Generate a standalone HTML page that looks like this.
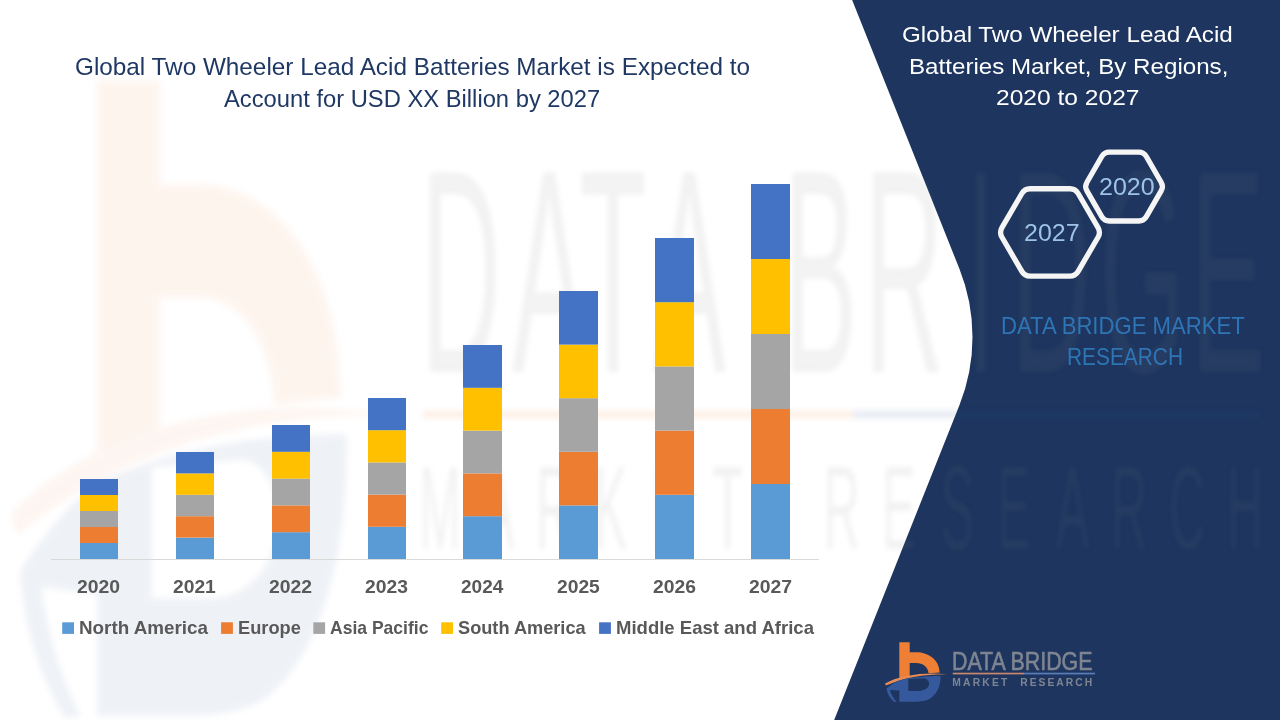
<!DOCTYPE html>
<html><head><meta charset="utf-8">
<style>
html,body{margin:0;padding:0;width:1280px;height:720px;overflow:hidden;background:#fff;}
body{position:relative;font-family:"Liberation Sans",sans-serif;}
svg{position:absolute;left:0;top:0;}
.t{position:absolute;white-space:nowrap;line-height:1;transform-origin:0 0;}
.yr{font-size:18px;font-weight:bold;color:#595959;}
.lg{font-size:17.4px;font-weight:bold;color:#595959;}
.rt{font-size:22px;color:#fff;}
.hx{font-size:23px;color:#9DC3E6;}
.db{font-size:22.6px;color:#2E75B6;}
</style></head><body>
<svg width="1280" height="720" viewBox="0 0 1280 720" font-family="Liberation Sans">
  <defs>
    <filter id="wb" x="-10%" y="-10%" width="120%" height="120%"><feGaussianBlur stdDeviation="3"/></filter>
    <filter id="wb2" x="-10%" y="-10%" width="120%" height="120%"><feGaussianBlur stdDeviation="2.5"/></filter>
    <g id="mark"><path d="M899.3,642.3 H909.7 V652.2 H916 C929,652.2 939.4,660 939.6,672.5 L928.6,673.2 C928,667 923,663 916,663 H909.7 V676.5 L899.3,678.5 Z" fill="#EE7F35"/>
<path d="M885,683.5 C900,675 925,672 947,674.2 C925,674 903,677.5 886,685.6 Z" fill="#E98B55"/>
<path d="M899.3,680.5 C910,677.5 925,676 940.5,676 C941,687 936,697 926,700.5 C922,701.5 918,701.7 914,701.7 L899.3,701.7 Z M908.3,679 L923,678.3 C928.5,678.5 930,683 928.6,686 C927,689.5 922,691 918,691 L908.3,691 Z M886.5,688.5 C890,685.5 895,682 899.3,680.5 L899.3,690.5 C896,690.5 892,690 890,690 C891,694 893,698 896.5,701.7 L894,701.9 C889.5,698 887,693 886.5,688.5 Z" fill="#35599C" fill-rule="evenodd"/></g>
  </defs>
  <path d="M852.13,0 L1280,0 L1280,720 L834.16,720 L959.4,405.2 A184,184 0 0 0 959.4,268.8 Z" fill="#1D355F"/>
  <g opacity="0.08" filter="url(#wb)">
    <g transform="matrix(6.044,0,0,10.49,-5338,-6657)"><path d="M899.3,642.3 H909.7 V652.2 H916 C929,652.2 939.4,660 939.6,672.5 L928.6,673.2 C928,667 923,663 916,663 H909.7 V676.5 L899.3,678.5 Z" fill="#EE7F35"/>
<path d="M885,683.5 C900,675 925,672 947,674.2 C925,674 903,677.5 886,685.6 Z" fill="#E98B55"/></g>
<g transform="translate(0,434) scale(1,1.044) translate(0,-434)"><path d="M899.3,680.5 C910,677.5 925,676 940.5,676 C941,687 936,697 926,700.5 C922,701.5 918,701.7 914,701.7 L899.3,701.7 Z M908.3,679 L923,678.3 C928.5,678.5 930,683 928.6,686 C927,689.5 922,691 918,691 L908.3,691 Z M886.5,688.5 C890,685.5 895,682 899.3,680.5 L899.3,690.5 C896,690.5 892,690 890,690 C891,694 893,698 896.5,701.7 L894,701.9 C889.5,698 887,693 886.5,688.5 Z" fill="#35599C" fill-rule="evenodd" transform="matrix(6.044,0,0,10.49,-5338,-6657)"/></g>
  </g>
  <g opacity="0.1" filter="url(#wb2)">
    <g fill="#808080"><text transform="translate(421.34,372.00) scale(0.380,1)" font-size="290.0" font-weight="normal" fill="#808080">D</text>
<text transform="translate(512.25,372.00) scale(0.380,1)" font-size="290.0" font-weight="normal" fill="#808080">A</text>
<text transform="translate(579.39,372.00) scale(0.380,1)" font-size="290.0" font-weight="normal" fill="#808080">T</text>
<text transform="translate(652.25,372.00) scale(0.380,1)" font-size="290.0" font-weight="normal" fill="#808080">A</text>
<text transform="translate(783.65,372.00) scale(0.380,1)" font-size="290.0" font-weight="normal" fill="#808080">B</text>
<text transform="translate(864.29,372.00) scale(0.380,1)" font-size="290.0" font-weight="normal" fill="#808080">R</text>
<text transform="translate(965.68,372.00) scale(0.380,1)" font-size="290.0" font-weight="normal" fill="#808080">I</text>
<text transform="translate(1011.34,372.00) scale(0.380,1)" font-size="290.0" font-weight="normal" fill="#808080">D</text>
<text transform="translate(1099.51,372.00) scale(0.380,1)" font-size="290.0" font-weight="normal" fill="#808080">G</text>
<text transform="translate(1191.10,372.00) scale(0.380,1)" font-size="290.0" font-weight="normal" fill="#808080">E</text>
<text transform="translate(419.18,549.00) scale(0.420,1)" font-size="119.0" font-weight="normal" fill="#808080">M</text>
<text transform="translate(480.83,549.00) scale(0.420,1)" font-size="119.0" font-weight="normal" fill="#808080">A</text>
<text transform="translate(536.08,549.00) scale(0.420,1)" font-size="119.0" font-weight="normal" fill="#808080">R</text>
<text transform="translate(594.08,549.00) scale(0.420,1)" font-size="119.0" font-weight="normal" fill="#808080">K</text>
<text transform="translate(652.36,549.00) scale(0.420,1)" font-size="119.0" font-weight="normal" fill="#808080">E</text>
<text transform="translate(712.26,549.00) scale(0.420,1)" font-size="119.0" font-weight="normal" fill="#808080">T</text>
<text transform="translate(823.58,549.00) scale(0.420,1)" font-size="119.0" font-weight="normal" fill="#808080">R</text>
<text transform="translate(882.36,549.00) scale(0.420,1)" font-size="119.0" font-weight="normal" fill="#808080">E</text>
<text transform="translate(940.83,549.00) scale(0.420,1)" font-size="119.0" font-weight="normal" fill="#808080">S</text>
<text transform="translate(997.36,549.00) scale(0.420,1)" font-size="119.0" font-weight="normal" fill="#808080">E</text>
<text transform="translate(1055.83,549.00) scale(0.420,1)" font-size="119.0" font-weight="normal" fill="#808080">A</text>
<text transform="translate(1111.08,549.00) scale(0.420,1)" font-size="119.0" font-weight="normal" fill="#808080">R</text>
<text transform="translate(1169.13,549.00) scale(0.420,1)" font-size="119.0" font-weight="normal" fill="#808080">C</text>
<text transform="translate(1226.93,549.00) scale(0.420,1)" font-size="119.0" font-weight="normal" fill="#808080">H</text></g>
    <rect x="423" y="410" width="430" height="9" fill="#EE7F35"/>
    <rect x="853" y="410" width="407" height="9" fill="#35599C"/>
  </g>
  <use href="#mark"/>
  <text x="952" y="670" font-size="26" fill="#7F8590" stroke="#7F8590" stroke-width="0.6" textLength="140.5" lengthAdjust="spacingAndGlyphs">DATA BRIDGE</text>
  <rect x="952.75" y="672.7" width="71.25" height="1.7" fill="#C9876B"/>
  <rect x="1024" y="672.7" width="71" height="1.7" fill="#5B7DB8"/>
  <text x="952.3" y="686.25" font-size="10.3" font-weight="bold" fill="#7F8590" textLength="55" lengthAdjust="spacing">MARKET</text>
  <text x="1020.2" y="686.25" font-size="10.3" font-weight="bold" fill="#7F8590" textLength="72" lengthAdjust="spacing">RESEARCH</text>
  <!-- axis -->
  <rect x="51" y="559" width="768" height="1" fill="#D9D9D9"/>
  <g id="bars">
<rect x="80" y="543.00" width="38" height="16.00" fill="#5B9BD5"/>
<rect x="80" y="527.00" width="38" height="16.00" fill="#ED7D31"/>
<rect x="80" y="511.00" width="38" height="16.00" fill="#A5A5A5"/>
<rect x="80" y="495.00" width="38" height="16.00" fill="#FFC000"/>
<rect x="80" y="479.00" width="38" height="16.00" fill="#4472C4"/>
<rect x="176" y="537.60" width="38" height="21.40" fill="#5B9BD5"/>
<rect x="176" y="516.20" width="38" height="21.40" fill="#ED7D31"/>
<rect x="176" y="494.80" width="38" height="21.40" fill="#A5A5A5"/>
<rect x="176" y="473.40" width="38" height="21.40" fill="#FFC000"/>
<rect x="176" y="452.00" width="38" height="21.40" fill="#4472C4"/>
<rect x="272" y="532.20" width="38" height="26.80" fill="#5B9BD5"/>
<rect x="272" y="505.40" width="38" height="26.80" fill="#ED7D31"/>
<rect x="272" y="478.60" width="38" height="26.80" fill="#A5A5A5"/>
<rect x="272" y="451.80" width="38" height="26.80" fill="#FFC000"/>
<rect x="272" y="425.00" width="38" height="26.80" fill="#4472C4"/>
<rect x="368" y="526.80" width="38" height="32.20" fill="#5B9BD5"/>
<rect x="368" y="494.60" width="38" height="32.20" fill="#ED7D31"/>
<rect x="368" y="462.40" width="38" height="32.20" fill="#A5A5A5"/>
<rect x="368" y="430.20" width="38" height="32.20" fill="#FFC000"/>
<rect x="368" y="398.00" width="38" height="32.20" fill="#4472C4"/>
<rect x="463" y="516.20" width="39" height="42.80" fill="#5B9BD5"/>
<rect x="463" y="473.40" width="39" height="42.80" fill="#ED7D31"/>
<rect x="463" y="430.60" width="39" height="42.80" fill="#A5A5A5"/>
<rect x="463" y="387.80" width="39" height="42.80" fill="#FFC000"/>
<rect x="463" y="345.00" width="39" height="42.80" fill="#4472C4"/>
<rect x="559" y="505.40" width="39" height="53.60" fill="#5B9BD5"/>
<rect x="559" y="451.80" width="39" height="53.60" fill="#ED7D31"/>
<rect x="559" y="398.20" width="39" height="53.60" fill="#A5A5A5"/>
<rect x="559" y="344.60" width="39" height="53.60" fill="#FFC000"/>
<rect x="559" y="291.00" width="39" height="53.60" fill="#4472C4"/>
<rect x="655" y="494.80" width="39" height="64.20" fill="#5B9BD5"/>
<rect x="655" y="430.60" width="39" height="64.20" fill="#ED7D31"/>
<rect x="655" y="366.40" width="39" height="64.20" fill="#A5A5A5"/>
<rect x="655" y="302.20" width="39" height="64.20" fill="#FFC000"/>
<rect x="655" y="238.00" width="39" height="64.20" fill="#4472C4"/>
<rect x="751" y="484.00" width="39" height="75.00" fill="#5B9BD5"/>
<rect x="751" y="409.00" width="39" height="75.00" fill="#ED7D31"/>
<rect x="751" y="334.00" width="39" height="75.00" fill="#A5A5A5"/>
<rect x="751" y="259.00" width="39" height="75.00" fill="#FFC000"/>
<rect x="751" y="184.00" width="39" height="75.00" fill="#4472C4"/></g>
  <!-- legend squares -->
  <rect x="62.2" y="622.3" width="11.8" height="11.6" fill="#5B9BD5"/>
  <rect x="221.1" y="622.3" width="11.8" height="11.6" fill="#ED7D31"/>
  <rect x="313.3" y="622.3" width="11.8" height="11.6" fill="#A5A5A5"/>
  <rect x="441.2" y="622.3" width="11.8" height="11.6" fill="#FFC000"/>
  <rect x="599.1" y="622.3" width="11.8" height="11.6" fill="#4472C4"/>
  <!-- hexagons -->
  <path d="M1001.96,237.21 Q999.20,232.45 1001.96,227.69 L1021.84,193.51 Q1024.60,188.75 1030.10,188.75 L1069.90,188.75 Q1075.40,188.75 1078.16,193.51 L1098.04,227.69 Q1100.80,232.45 1098.04,237.21 L1078.16,271.39 Q1075.40,276.15 1069.90,276.15 L1030.10,276.15 Q1024.60,276.15 1021.84,271.39 Z" fill="none" stroke="#F5F5F5" stroke-width="5.3"/>
  <path d="M1086.94,190.93 Q1084.45,186.60 1086.94,182.27 L1101.76,156.53 Q1104.25,152.20 1109.25,152.20 L1138.85,152.20 Q1143.85,152.20 1146.34,156.53 L1161.16,182.27 Q1163.65,186.60 1161.16,190.93 L1146.34,216.67 Q1143.85,221.00 1138.85,221.00 L1109.25,221.00 Q1104.25,221.00 1101.76,216.67 Z" fill="none" stroke="#F5F5F5" stroke-width="5.3"/>
</svg>
<div class="t" id="title1" style="left:74.78px;top:54.70px;font-size:24.40px;transform:scaleX(0.9965);color:#1F3864;">Global Two Wheeler Lead Acid Batteries Market is Expected to</div>
<div class="t" id="title2" style="left:223.88px;top:87.04px;font-size:24.40px;transform:scaleX(0.9736);color:#1F3864;">Account for USD XX Billion by 2027</div>

<div class="t yr" id="yr0" style="left:77.02px;top:577.54px;font-size:18.20px;transform:scaleX(1.0631);">2020</div>
<div class="t yr" id="yr1" style="left:172.89px;top:577.54px;font-size:18.20px;transform:scaleX(1.0582);">2021</div>
<div class="t yr" id="yr2" style="left:268.74px;top:577.54px;font-size:18.20px;transform:scaleX(1.0631);">2022</div>
<div class="t yr" id="yr3" style="left:364.60px;top:577.54px;font-size:18.20px;transform:scaleX(1.0607);">2023</div>
<div class="t yr" id="yr4" style="left:461.27px;top:577.54px;font-size:18.20px;transform:scaleX(1.0461);">2024</div>
<div class="t yr" id="yr5" style="left:557.13px;top:577.54px;font-size:18.20px;transform:scaleX(1.0582);">2025</div>
<div class="t yr" id="yr6" style="left:652.98px;top:577.54px;font-size:18.20px;transform:scaleX(1.0607);">2026</div>
<div class="t yr" id="yr7" style="left:748.84px;top:577.54px;font-size:18.20px;transform:scaleX(1.0656);">2027</div>
<div class="t lg" id="lg1" style="left:78.78px;top:618.87px;font-size:18.40px;transform:scaleX(1.0238);">North America</div>
<div class="t lg" id="lg2" style="left:237.61px;top:618.87px;font-size:18.40px;transform:scaleX(0.9911);">Europe</div>
<div class="t lg" id="lg3" style="left:330.36px;top:618.87px;font-size:18.40px;transform:scaleX(0.9530);">Asia Pacific</div>
<div class="t lg" id="lg4" style="left:458.20px;top:618.87px;font-size:18.40px;transform:scaleX(0.9887);">South America</div>
<div class="t lg" id="lg5" style="left:615.80px;top:618.87px;font-size:18.40px;transform:scaleX(1.0072);">Middle East and Africa</div>
<div class="t rt" id="rt1" style="left:902.29px;top:23.67px;font-size:22.45px;transform:scaleX(1.0797);">Global Two Wheeler Lead Acid</div>
<div class="t rt" id="rt2" style="left:908.57px;top:55.72px;font-size:22.45px;transform:scaleX(1.0761);">Batteries Market, By Regions,</div>
<div class="t rt" id="rt3" style="left:996.47px;top:86.69px;font-size:22.45px;transform:scaleX(1.0957);">2020 to 2027</div>
<div class="t hx" id="hx1" style="left:1024.15px;top:222.20px;font-size:23.30px;transform:scaleX(1.0725);">2027</div>
<div class="t hx" id="hx2" style="left:1098.75px;top:175.80px;font-size:23.30px;transform:scaleX(1.0755);">2020</div>
<div class="t db" id="db1" style="left:1000.93px;top:313.62px;font-size:23.80px;transform:scaleX(0.9296);">DATA BRIDGE MARKET</div>
<div class="t db" id="db2" style="left:1067.33px;top:345.30px;font-size:23.80px;transform:scaleX(0.8769);">RESEARCH</div>
</body></html>
